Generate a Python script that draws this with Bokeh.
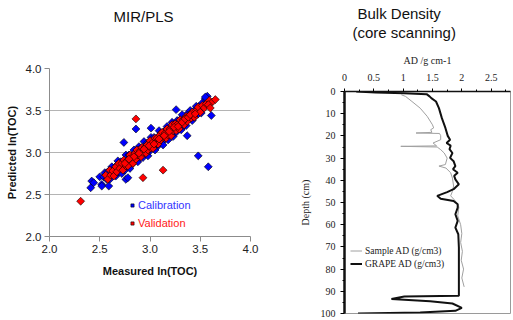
from bokeh.plotting import figure
from bokeh.models import Range1d, FixedTicker, Legend, LegendItem, PrintfTickFormatter, Title
from bokeh.embed import file_html
from bokeh.resources import INLINE

# ---------------- MIR/PLS scatter data ----------------
cal_x = [2.50, 2.52, 2.54, 2.55, 2.57, 2.58, 2.60, 2.62, 2.63, 2.65, 2.66, 2.68, 2.69, 2.71, 2.72,
         2.74, 2.75, 2.76, 2.78, 2.79, 2.80, 2.82, 2.83, 2.84, 2.85, 2.87, 2.88, 2.89, 2.90, 2.92,
         2.93, 2.94, 2.95, 2.97, 2.98, 2.99, 3.00, 3.01, 3.03, 3.04, 3.05, 3.06, 3.08, 3.09, 3.10,
         3.11, 3.13, 3.14, 3.15, 3.17, 3.18, 3.19, 3.20, 3.22, 3.23, 3.24, 3.26, 3.27, 3.28, 3.30,
         3.31, 3.32, 3.34, 3.35, 3.36, 3.38, 3.39, 3.40, 3.42, 3.43, 3.45, 3.46, 3.48, 3.49, 3.51,
         3.52, 3.54, 3.55, 3.57,
         2.80, 2.86, 2.91, 2.96, 3.02, 3.07, 3.12, 3.16, 3.21, 3.25, 3.29, 3.33,
         2.86, 2.74, 3.01, 3.26, 3.48, 3.57, 3.61, 3.58, 2.41, 2.42, 2.44, 2.52, 2.59, 2.67, 2.76,
         2.78, 3.55, 3.37]
cal_y = [2.71, 2.62, 2.71, 2.76, 2.68, 2.77, 2.68, 2.83, 2.74, 2.82, 2.72, 2.90, 2.77, 2.89, 2.75,
         2.88, 2.79, 2.97, 2.84, 2.97, 2.81, 2.96, 2.87, 3.03, 2.92, 3.02, 2.89, 3.07, 2.94, 3.03,
         2.94, 3.13, 3.02, 3.11, 2.96, 3.11, 3.02, 3.18, 3.07, 3.18, 3.03, 3.16, 3.08, 3.26, 3.14,
         3.23, 3.09, 3.25, 3.16, 3.31, 3.15, 3.26, 3.21, 3.36, 3.19, 3.33, 3.24, 3.38, 3.29, 3.39,
         3.27, 3.45, 3.32, 3.41, 3.32, 3.47, 3.40, 3.50, 3.38, 3.49, 3.43, 3.55, 3.46, 3.55, 3.47,
         3.59, 3.56, 3.64, 3.58,
         2.93, 2.97, 3.05, 3.00, 3.12, 3.10, 3.20, 3.27, 3.25, 3.31, 3.35, 3.36,
         3.28, 3.12, 3.29, 3.51, 2.96, 3.67, 3.44, 2.83, 2.58, 2.66, 2.64, 2.60, 2.60, 2.85, 2.68,
         2.70, 3.66, 3.20]

val_x = [2.56, 2.58, 2.60, 2.61, 2.63, 2.64, 2.66, 2.67, 2.69, 2.70, 2.72, 2.73, 2.74, 2.76, 2.77,
         2.78, 2.80, 2.81, 2.82, 2.83, 2.85, 2.86, 2.87, 2.88, 2.90, 2.91, 2.92, 2.93, 2.95, 2.96,
         2.97, 2.98, 3.00, 3.01, 3.02, 3.03, 3.05, 3.06, 3.07, 3.08, 3.10, 3.11, 3.12, 3.13, 3.15,
         3.16, 3.17, 3.18, 3.20, 3.21, 3.22, 3.23, 3.25, 3.26, 3.27, 3.29, 3.30, 3.31, 3.33, 3.34,
         3.36, 3.37, 3.39, 3.41, 3.42, 3.44, 3.46, 3.48, 3.50, 3.52, 3.54, 3.56, 3.59, 3.62, 3.65,
         2.84, 2.89, 2.94, 2.99, 3.04, 3.09, 3.14, 3.19, 3.24, 3.28, 3.32, 3.35, 3.38, 2.79, 2.75,
         3.40, 3.45, 3.58,
         2.86, 3.13, 2.93, 2.31, 3.60]
val_y = [2.73, 2.68, 2.79, 2.73, 2.78, 2.72, 2.83, 2.77, 2.87, 2.81, 2.87, 2.79, 2.91, 2.84, 2.90,
         2.84, 2.97, 2.90, 2.94, 2.87, 2.99, 2.92, 3.03, 2.97, 3.02, 2.95, 3.06, 3.00, 3.06, 2.99,
         3.09, 3.03, 3.14, 3.05, 3.11, 3.05, 3.17, 3.11, 3.17, 3.10, 3.21, 3.15, 3.24, 3.18, 3.23,
         3.17, 3.28, 3.21, 3.28, 3.20, 3.33, 3.26, 3.34, 3.26, 3.33, 3.28, 3.39, 3.34, 3.39, 3.33,
         3.43, 3.37, 3.44, 3.41, 3.48, 3.42, 3.50, 3.54, 3.48, 3.56, 3.53, 3.58, 3.62, 3.60, 3.63,
         2.95, 2.99, 3.04, 3.08, 3.10, 3.16, 3.20, 3.25, 3.30, 3.31, 3.36, 3.40, 3.42, 2.92, 2.87,
         3.45, 3.46, 3.57,
         3.40, 2.79, 2.70, 2.42, 3.53]

toc_ticks = [2.0, 2.5, 3.0, 3.5, 4.0]

# ---------------- Bulk density data ----------------
scan_depth = [0.0, 0.4, 0.8, 1.2, 2.2, 3.0, 4.5, 7.5, 12.0, 16.4, 20.0, 21.7, 23.2, 24.4, 26.0,
              27.7, 29.9, 31.4, 33.6, 35.0, 36.6, 38.0, 39.6, 41.8, 43.0, 44.0, 45.3, 47.0, 48.3,
              49.3, 50.8, 52.3, 55.3, 58.3, 61.3, 64.3, 70.3, 79.2, 92.0, 92.3, 93.5, 94.5, 95.5,
              97.5, 98.8, 99.6, 100.0]
scan_ad = [0.20, 0.53, 1.02, 1.40, 1.45, 1.48, 1.56, 1.61, 1.66, 1.72, 1.76, 1.80, 1.74, 1.81, 1.79,
           1.84, 1.80, 1.86, 1.89, 1.85, 1.93, 1.87, 1.89, 1.95, 1.90, 1.86, 1.75, 1.58, 1.64,
           1.86, 1.93, 1.93, 1.89, 1.93, 1.89, 1.94, 1.95, 1.95, 1.95, 1.02, 0.80, 1.46, 1.84,
           2.00, 1.89, 1.29, 0.23]

sample_depth = [1.5, 2.2, 4.5, 7.5, 11.2, 15.0, 16.4, 17.2, 18.4, 18.7, 18.9, 19.9, 21.7, 23.2,
                24.5, 24.7, 25.0, 26.2, 27.7, 30.0, 32.9, 33.6, 34.5, 36.6, 39.0, 42.6, 45.0,
                47.0, 49.3, 52.0, 56.0, 60.0, 64.0, 68.0, 72.0, 76.0, 80.0, 84.0, 88.0]
sample_ad = [0.97, 1.04, 1.15, 1.29, 1.41, 1.50, 1.52, 1.47, 1.49, 1.22, 1.62, 1.64, 1.64, 1.51,
             1.57, 0.96, 1.58, 1.64, 1.70, 1.75, 1.72, 1.61, 1.73, 1.81, 1.84, 1.86, 1.84,
             1.81, 1.89, 1.95, 1.93, 1.98, 2.00, 1.98, 2.01, 1.99, 2.03, 2.00, 2.04]

ad_ticks = [0, 0.5, 1.0, 1.5, 2.0, 2.5]
ad_minor = [0.25, 0.75, 1.25, 1.75, 2.25, 2.75]
depth_ticks = [0, 10, 20, 30, 40, 50, 60, 70, 80, 90, 100]
depth_minor = [5, 15, 25, 35, 45, 55, 65, 75, 85, 95]

SANS = "Liberation Sans"
SERIF = "Liberation Serif"


def spacer(gap):
    return Title(text=" ", text_font_size="2px", standoff=gap)


# ================= Left: MIR/PLS =================
p1 = figure(width=290, height=320, x_range=Range1d(2.0, 4.0), y_range=Range1d(2.0, 4.0),
            output_backend="svg", toolbar_location=None,
            min_border_left=49, min_border_right=40, min_border_top=68, min_border_bottom=84)
p1.outline_line_color = None

p1.add_layout(spacer(40), "above")
p1.title.text = "MIR/PLS"
p1.title.align = "left"
p1.title.offset = 64
p1.title.standoff = 0
p1.title.text_font = SANS
p1.title.text_font_size = "15px"
p1.title.text_font_style = "normal"
p1.title.text_color = "#111111"

r_cal = p1.scatter(cal_x, cal_y, marker="square", angle=0.785398, size=5.6,
                   fill_color="#0000ff", line_color="#000000", line_width=0.6)
r_val = p1.scatter(val_x, val_y, marker="square", angle=0.785398, size=5.6,
                   fill_color="#ff0000", line_color="#000000", line_width=0.6)

for ax in (p1.xaxis[0], p1.yaxis[0]):
    ax.ticker = FixedTicker(ticks=toc_ticks)
    ax.formatter = PrintfTickFormatter(format="%.1f")
    ax.axis_line_color = "#8c8c8c"
    ax.major_tick_line_color = "#8c8c8c"
    ax.major_tick_out = 5
    ax.major_tick_in = 0
    ax.minor_tick_line_color = None
    ax.major_label_text_font = SANS
    ax.major_label_text_font_size = "11.5px"
    ax.major_label_text_color = "#222222"
    ax.major_label_standoff = 3
    ax.axis_label_text_font = SANS
    ax.axis_label_text_font_size = "11px"
    ax.axis_label_text_font_style = "bold"
    ax.axis_label_text_color = "#111111"

p1.xaxis.axis_label = "Measured ln(TOC)"
p1.xaxis.axis_label_standoff = 9
p1.yaxis.axis_label = "Predicted ln(TOC)"
p1.yaxis.axis_label_standoff = 5

p1.xgrid.visible = False
p1.ygrid.ticker = FixedTicker(ticks=toc_ticks)
p1.ygrid.grid_line_color = "#b4b4b4"

leg_kw = dict(glyph_width=8, glyph_height=12, label_height=12, label_standoff=2,
              padding=0, margin=0, spacing=0, background_fill_alpha=0, border_line_alpha=0,
              label_text_font=SANS, label_text_font_size="11px")
leg_cal = Legend(items=[LegendItem(label="Calibration", renderers=[r_cal])], location=(79, 25),
                 label_text_color="#3333ff", **leg_kw)
leg_val = Legend(items=[LegendItem(label="Validation", renderers=[r_val])], location=(79, 7),
                 label_text_color="#ff2020", **leg_kw)
p1.add_layout(leg_cal)
p1.add_layout(leg_val)

# ================= Right: Bulk density =================
p2 = figure(width=223, height=320, x_range=Range1d(0, 2.83), y_range=Range1d(100, 0),
            x_axis_location="above", output_backend="svg", toolbar_location=None,
            min_border_left=54, min_border_right=3, min_border_top=91, min_border_bottom=7)
p2.outline_line_color = "#9a9a9a"
p2.outline_line_width = 1
p2.xgrid.visible = False
p2.ygrid.visible = False

p2.add_layout(spacer(7), "above")
p2.add_layout(Title(text="(core scanning)", align="left", offset=8, standoff=0,
                    text_font=SANS, text_font_size="15px", text_font_style="normal",
                    text_color="#111111"), "above")
p2.title.text = "Bulk Density"
p2.title.align = "left"
p2.title.offset = 13
p2.title.standoff = 0
p2.title.text_font = SANS
p2.title.text_font_size = "15px"
p2.title.text_font_style = "normal"
p2.title.text_color = "#111111"

r_sample = p2.line(sample_ad, sample_depth, line_color="#a0a0a0", line_width=1)
r_scan = p2.line(scan_ad, scan_depth, line_color="#111111", line_width=2)

xa = p2.xaxis[0]
xa.ticker = FixedTicker(ticks=ad_ticks, minor_ticks=ad_minor)
xa.axis_label = "AD /g cm-1"
xa.axis_line_color = "#111111"
xa.axis_line_width = 1.5
xa.major_tick_out = 3
xa.major_tick_in = 0
xa.minor_tick_out = 2
xa.minor_tick_in = 0
xa.major_label_standoff = 8
xa.axis_label_standoff = 5

ya = p2.yaxis[0]
ya.ticker = FixedTicker(ticks=depth_ticks, minor_ticks=depth_minor)
ya.axis_label = "Depth (cm)"
ya.axis_line_color = "#111111"
ya.axis_line_width = 2.5
ya.major_tick_out = 4
ya.major_tick_in = 0
ya.minor_tick_out = 2
ya.minor_tick_in = 0
ya.major_label_standoff = 5
ya.axis_label_standoff = 7

for ax in (xa, ya):
    ax.major_label_text_font = SERIF
    ax.major_label_text_font_size = "10px"
    ax.major_label_text_color = "#222222"
    ax.axis_label_text_font = SERIF
    ax.axis_label_text_font_size = "10px"
    ax.axis_label_text_font_style = "normal"
    ax.axis_label_text_color = "#222222"

leg2 = Legend(items=[LegendItem(label="Sample AD (g/cm3)", renderers=[r_sample]),
                     LegendItem(label="GRAPE AD (g/cm3)", renderers=[r_scan])],
              location=(6, 43), glyph_width=12, glyph_height=13, label_height=13,
              label_standoff=3, padding=0, margin=0, spacing=0,
              background_fill_alpha=0, border_line_alpha=0,
              label_text_font=SERIF, label_text_font_size="9.5px", label_text_color="#222222")
p2.add_layout(leg2)

TEMPLATE = """
{% block postamble %}
<style>
html, body { margin: 0 !important; padding: 0 !important; overflow: hidden; }
body { display: flex !important; flex-direction: row !important; align-items: flex-start !important; }
body > * { flex-shrink: 0; }
</style>
{% endblock %}
"""

open("out.html", "w").write(file_html([p1, p2], INLINE, title="charts", template=TEMPLATE))
